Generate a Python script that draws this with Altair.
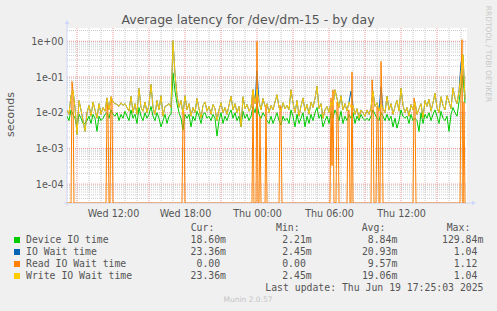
import altair as alt
import pandas as pd

# ---------------- values ----------------
TITLE = "Average latency for /dev/dm-15 - by day"
START = "2025-06-18 08:10:00"
END = "2025-06-19 17:30:00"
STEP_MAIN_MIN = 10
STEP_READ_MIN = 5
N_READ = 400

# 10-minute samples, milliseconds
device_io_ms = [
    8, 6, 12, 9, 7, 4, 9, 7, 5, 5,
    6, 8, 5, 9, 7, 3, 8, 6, 7, 9,
    10, 7, 12, 9, 8, 10, 6, 9, 7, 11,
    8, 6, 12, 7, 9, 5, 14, 8, 6, 10,
    7, 9, 15, 8, 6, 10, 7, 4, 6, 9,
    5, 8, 9, 130, 40, 18, 10, 7, 3.3, 9,
    7, 9, 4, 8, 6, 11, 8, 5, 9, 10,
    7, 8, 6, 9, 7, 2.21, 6, 10, 5, 8,
    6, 9, 12, 7, 10, 6, 8, 4, 11, 7,
    9, 6, 8, 15, 10, 18, 9, 7, 10, 8,
    6, 5, 8, 5, 7, 10, 6, 4.5, 8, 6,
    7, 5, 12, 8, 4, 9, 5, 7, 10, 4,
    8, 5, 9, 6, 10, 14, 7, 9, 4, 6,
    8, 5, 10, 7, 12, 9, 6, 11, 5, 8,
    6, 9, 7, 10, 5, 8, 6, 9, 7, 6,
    7, 6, 8, 12, 9, 7, 6, 10, 8, 6,
    9, 6, 8, 4, 7, 3.7, 6, 12, 8, 7,
    8, 5, 9, 6, 7, 6, 3, 10, 5, 9,
    7, 10, 6, 9, 12, 8, 5, 11, 7, 6,
    8, 3, 9, 14, 10, 8, 20, 50, 110, 18.6,
]

io_wait_ms = [
    12, 9, 30, 42, 14, 2.45, 22, 12, 6, 3,
    10, 16, 8, 20, 12, 7, 18, 9, 14, 11,
    26, 12, 28, 20, 18, 17, 15, 19, 16, 18,
    14, 11, 29, 10, 18, 9, 48, 14, 11, 20,
    10, 17, 62, 14, 9, 22, 12, 30, 8, 15,
    16, 18, 14, 1040, 120, 30, 14, 22, 9, 30,
    12, 18, 8, 14, 10, 25, 13, 7, 16, 20,
    11, 15, 9, 17, 13, 6, 12, 19, 10, 14,
    9, 16, 29, 12, 18, 10, 15, 4, 28, 13,
    17, 11, 14, 44, 18, 150, 20, 12, 25, 15,
    18, 10, 16, 12, 20, 32, 14, 11, 19, 13,
    16, 12, 44, 19, 10, 22, 8, 15, 26, 11,
    17, 9, 20, 14, 25, 55, 13, 18, 7, 12,
    15, 10, 20, 16, 44, 25, 14, 30, 12, 18,
    11, 20, 40, 16, 9, 13, 7, 12, 10, 8,
    12, 9, 14, 40, 15, 19, 11, 53, 13, 10,
    29, 12, 18, 9, 15, 22, 11, 49, 16, 10,
    14, 8, 17, 12, 20, 9, 13, 18, 7, 22,
    15, 24, 11, 19, 35, 14, 10, 28, 16, 12,
    30, 20, 13, 50, 25, 18, 40, 250, 420, 23.36,
]

write_wait_ms = [
    12, 9, 30, 42, 14, 2.45, 22, 12, 6, 3,
    10, 16, 8, 20, 12, 7, 18, 9, 14, 11,
    26, 12, 28, 20, 18, 17, 15, 19, 16, 18,
    14, 11, 29, 10, 18, 9, 48, 14, 11, 20,
    10, 17, 62, 14, 9, 22, 12, 30, 8, 15,
    16, 18, 14, 1040, 120, 30, 14, 22, 9, 30,
    12, 18, 8, 14, 10, 25, 13, 7, 16, 20,
    11, 15, 9, 17, 13, 6, 12, 19, 10, 14,
    9, 16, 29, 12, 18, 10, 15, 4, 28, 13,
    17, 11, 14, 44, 18, 46, 20, 12, 25, 15,
    18, 10, 16, 12, 20, 32, 14, 11, 19, 13,
    16, 12, 44, 19, 10, 22, 8, 15, 26, 11,
    17, 9, 20, 14, 25, 55, 13, 18, 7, 12,
    15, 10, 20, 16, 44, 25, 14, 30, 12, 18,
    11, 20, 14, 16, 9, 13, 7, 12, 10, 8,
    12, 9, 14, 40, 15, 19, 11, 17, 13, 10,
    29, 12, 18, 9, 15, 22, 11, 49, 16, 10,
    14, 8, 17, 12, 20, 9, 13, 18, 7, 22,
    15, 24, 11, 19, 35, 14, 10, 28, 16, 12,
    30, 20, 13, 50, 25, 18, 40, 120, 420, 23.36,
]

# read wait: 5-minute samples, zero except at these sample indices (seconds)
read_idx = [5, 6, 40, 41, 44, 45, 116, 117, 186, 190, 193, 199, 213, 214,
            264, 265, 266, 270, 271, 281, 282, 285, 305, 306, 310, 311, 314,
            315, 347, 348, 394, 395, 397]
read_val_s = [0.075, 0.04, 0.019, 0.01, 0.028, 0.02, 0.012, 0.01, 0.044, 1.0,
              0.008, 0.016, 0.016, 0.012, 0.026, 0.00033, 0.044, 0.02, 0.015,
              0.01, 0.012, 0.14, 0.084, 0.03, 0.015, 0.012, 0.275, 0.02,
              0.026, 0.015, 0.05, 1.12, 0.02]

legend_names = ["Device IO time", "IO Wait time", "Read IO Wait time", "Write IO Wait time"]
legend_colors = ["#00cc00", "#0066b3", "#ff8000", "#ffcc00"]
col_headers = ["Cur:", "Min:", "Avg:", "Max:"]
cur_vals = ["18.60m", "23.36m", "0.00", "23.36m"]
min_vals = ["2.21m", "2.45m", "0.00", "2.45m"]
avg_vals = ["8.84m", "20.93m", "9.57m", "19.06m"]
max_vals = ["129.84m", "1.04", "1.12", "1.04"]
x_label_times = ["2025-06-18 12:00", "2025-06-18 18:00", "2025-06-19 00:00",
                 "2025-06-19 06:00", "2025-06-19 12:00"]
y_ticks = [1, 0.1, 0.01, 0.001, 0.0001]
y_tick_labels = ["1e+00", "1e-01", "1e-02", "1e-03", "1e-04"]
Y_DOMAIN = [2.96e-5, 2.36]
LAST_UPDATE = "Last update: Thu Jun 19 17:25:03 2025"
FOOTER = "Munin 2.0.57"
SIDE_TEXT = "RRDTOOL / TOBI OETIKER"
Y_TITLE = "seconds"

# ---------------- layout ----------------
W, H = 400, 175
PAD = {"left": 67, "top": 28, "right": 30, "bottom": 108}
FONT = "DejaVu Sans"
MONO = "DejaVu Sans Mono"
TXT = "#555555"


def ms(ts):
    return int(pd.Timestamp(ts).value // 10**6)


t0 = pd.Timestamp(START)
main_t = [ms(t0 + pd.Timedelta(minutes=STEP_MAIN_MIN * i)) for i in range(len(write_wait_ms))]
df_main = pd.DataFrame({
    "t": main_t,
    "device": [v / 1000 for v in device_io_ms],
    "iowait": [v / 1000 for v in io_wait_ms],
    "write": [v / 1000 for v in write_wait_ms],
})
read_full = [0.0] * N_READ
for j, v in zip(read_idx, read_val_s):
    read_full[j] = v
df_read = pd.DataFrame({
    "t": [ms(t0 + pd.Timedelta(minutes=STEP_READ_MIN * j)) for j in range(N_READ)],
    "read": read_full,
})

# grid positions
hours = pd.date_range("2025-06-18 09:00", "2025-06-19 17:00", freq="h")
df_xmaj = pd.DataFrame({"t": [ms(h) for h in hours if h.hour % 3 == 0]})
df_xmin = pd.DataFrame({"t": [ms(h) for h in hours if h.hour % 3 != 0]})
ymaj = [10.0 ** n for n in range(-4, 1)]
ymin = [k * 10.0 ** n for n in range(-5, 1) for k in range(2, 10)
        if Y_DOMAIN[0] <= k * 10.0 ** n <= Y_DOMAIN[1]]
df_ymaj = pd.DataFrame({"t": ymaj})
df_ymin = pd.DataFrame({"t": ymin})

xscale = alt.Scale(type="utc", domain=[ms(START), ms(END)])
yscale = alt.Scale(type="log", domain=Y_DOMAIN, clamp=True)

y_expr = ""
for v, lab in zip(y_ticks, y_tick_labels):
    y_expr += f"datum.value > {v * 0.5} ? '{lab}' : "
y_expr += "''"

x_axis = alt.Axis(values=[ms(t) for t in x_label_times],
                  labelExpr="utcFormat(datum.value, '%a %H:%M')",
                  grid=False, ticks=False, tickSize=0, domain=False, title=None,
                  labelFont=FONT, labelFontSize=9.6, labelColor=TXT,
                  labelPadding=5, labelFlush=False, labelOverlap=False)
y_axis = alt.Axis(values=y_ticks, labelExpr=y_expr, grid=False, ticks=False,
                  tickSize=0, domain=False, title=None, labelFont=FONT,
                  labelFontSize=9.6, labelColor=TXT, labelPadding=4)


def X(field):
    return alt.X(field, scale=xscale, axis=x_axis, title=None)


def Y(field):
    return alt.Y(field, scale=yscale, axis=y_axis, title=None)


MINOR = "#a8a8a8"
MAJOR = "#eb9595"

g_xmin = alt.Chart(df_xmin).mark_rule(color=MINOR, strokeDash=[1, 1], strokeWidth=1, opacity=0.6).encode(
    x=X("t:T"), y=alt.value(0), y2=alt.value(H))
g_ymin = alt.Chart(df_ymin).mark_rule(color=MINOR, strokeDash=[1, 1], strokeWidth=1, opacity=0.6).encode(
    y=Y("t:Q"), x=alt.value(0), x2=alt.value(W))
g_xmaj = alt.Chart(df_xmaj).mark_rule(color=MAJOR, strokeDash=[1, 1], strokeWidth=1).encode(
    x=X("t:T"), y=alt.value(0), y2=alt.value(H))
g_ymaj = alt.Chart(df_ymaj).mark_rule(color=MAJOR, strokeDash=[1, 1], strokeWidth=1).encode(
    y=Y("t:Q"), x=alt.value(0), x2=alt.value(W))

one = pd.DataFrame({"k": [0]})
AXC = "#CFD6F8"
ax_y = alt.Chart(one).mark_rule(color=AXC, strokeWidth=1).encode(
    x=alt.value(0), y=alt.value(-4), y2=alt.value(H + 3))
ax_x = alt.Chart(one).mark_rule(color=AXC, strokeWidth=1).encode(
    x=alt.value(-3), x2=alt.value(W + 5), y=alt.value(H))
arr_y = alt.Chart(one).mark_point(shape="triangle-up", filled=True, size=22, color=AXC, opacity=1).encode(
    x=alt.value(0), y=alt.value(-6))
arr_x = alt.Chart(one).mark_point(shape="triangle-right", filled=True, size=22, color=AXC, opacity=1).encode(
    x=alt.value(W + 7), y=alt.value(H))


def line(df, field, color, calc=None):
    c = alt.Chart(df)
    f = field
    if calc:
        c = c.transform_calculate(**{field + "_p": calc})
        f = field + "_p"
    return c.mark_line(color=color, strokeWidth=1, clip=True).encode(
        x=X("t:T"), y=Y(f + ":Q"))


l_dev = line(df_main, "device", legend_colors[0])
l_io = line(df_main, "iowait", legend_colors[1])
l_rd = line(df_read, "read", legend_colors[2], calc="max(datum.read, 1e-9)")
l_wr = line(df_main, "write", legend_colors[3])


def text(s, x, y, size=9.8, font=MONO, color=TXT, align="left", baseline="middle", angle=0):
    kw = dict(font=font, fontSize=size, color=color, align=align, baseline=baseline)
    if angle:
        kw["angle"] = angle
    return alt.Chart(one).mark_text(**kw).encode(
        x=alt.value(x), y=alt.value(y), text=alt.value(s))


texts = [
    text(TITLE, 181, -4, size=12.5, font=FONT, color="#555555", align="center", baseline="alphabetic"),
    text(Y_TITLE, -56, 86.5, size=11, font=FONT, color=TXT, align="center", angle=270),
    text(SIDE_TEXT, 421, 26, size=7.5, font=FONT, color="#c8c8c8", align="center", angle=90),
    text(FOOTER, 181, 272, size=7.5, font=FONT, color="#c4c4c4", align="center"),
    text(LAST_UPDATE, 416.5, 259.7, align="right"),
]

CHAR = 9.8 * 0.602
col_ends = [159, 244.7, 330.3, 416.3]
header_x = [123.7, 209, 294.7, 379.7]
for hx, h in zip(header_x, col_headers):
    texts.append(text(h, hx, 199.7))

row_y = [212, 224, 236, 248]
squares = []
for r, (name, colr) in enumerate(zip(legend_names, legend_colors)):
    squares.append(alt.Chart(one).mark_square(size=36, color=colr, filled=True, opacity=1).encode(
        x=alt.value(-50), y=alt.value(row_y[r])))
    texts.append(text(name, -41, row_y[r]))
    for c, vals in enumerate([cur_vals, min_vals, avg_vals, max_vals]):
        s = vals[r]
        xe = col_ends[c] - (0 if s.endswith("m") else CHAR)
        texts.append(text(s, xe, row_y[r], align="right"))

chart = alt.layer(
    g_xmin, g_ymin, g_xmaj, g_ymaj, ax_y, ax_x, arr_y, arr_x,
    l_dev, l_io, l_rd, l_wr, *squares, *texts
).properties(
    width=W, height=H,
    autosize=alt.AutoSizeParams(type="none"),
    padding=PAD,
    background="#f0f0f0",
).configure_view(stroke=None, fill="white")

chart.save("out.html", embed_options={"renderer": "svg", "actions": False})
